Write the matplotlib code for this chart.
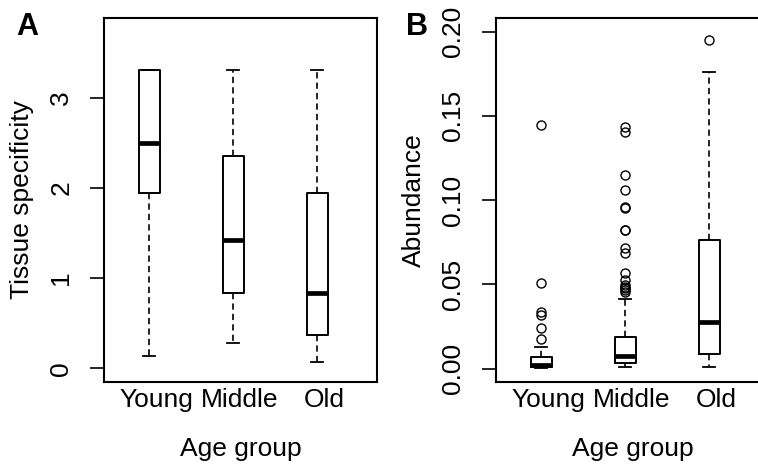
import matplotlib.pyplot as plt
from matplotlib.transforms import ScaledTranslation

plt.rcParams["font.family"] = ["Liberation Sans", "DejaVu Sans"]
plt.rcParams["lines.scale_dashes"] = False

groups = ["Young", "Middle", "Old"]

# panel A: tissue specificity (box stats)
ts_whislo = [0.14, 0.28, 0.07]
ts_q1 = [1.94, 0.83, 0.37]
ts_med = [2.50, 1.42, 0.83]
ts_q3 = [3.31, 2.35, 1.94]
ts_whishi = [3.31, 3.31, 3.31]
ts_fliers = [[], [], []]
ts_ticks = [0, 1, 2, 3]

# panel B: abundance
ab_whislo = [0.0002, 0.0008, 0.0010]
ab_q1 = [0.0008, 0.0030, 0.0089]
ab_med = [0.0022, 0.0073, 0.0277]
ab_q3 = [0.0068, 0.0188, 0.0762]
ab_whishi = [0.0128, 0.0413, 0.1760]
ab_fliers = [
    [0.0178, 0.0239, 0.0317, 0.0336, 0.0505, 0.1446],
    [0.0455, 0.0465, 0.0475, 0.0485, 0.0495, 0.0525, 0.0564, 0.0687,
     0.0713, 0.0820, 0.0824, 0.0955, 0.0958, 0.1060, 0.1149, 0.1406, 0.1436],
    [0.1950],
]
ab_ticks = [0.00, 0.05, 0.10, 0.15, 0.20]

FS = 19


def draw(ax, whislo, q1, med, q3, whishi, fliers, ticks, fmt, ylim, ylabel):
    stats = []
    for i, name in enumerate(groups):
        stats.append(dict(label=name, whislo=whislo[i], q1=q1[i], med=med[i],
                          q3=q3[i], whishi=whishi[i], fliers=fliers[i]))
    ax.bxp(stats, positions=[1, 2, 3], widths=0.25, capwidths=0.14,
           boxprops=dict(color="black", linewidth=1.4),
           medianprops=dict(color="black", linewidth=3.4, solid_capstyle="butt"),
           whiskerprops=dict(color="black", linewidth=1.2, linestyle=(0, (4.5, 3))),
           capprops=dict(color="black", linewidth=1.3),
           flierprops=dict(marker="o", markerfacecolor="none", markeredgecolor="black",
                           markersize=6.5, markeredgewidth=1.0))
    ax.set_xlim(0.464, 3.714)
    ax.set_ylim(*ylim)
    ax.set_xticks([1, 2, 3])
    ax.set_xticklabels(groups, fontsize=FS)
    ax.tick_params(axis="x", length=0, pad=4)
    shift = ScaledTranslation(0.07, 0, ax.figure.dpi_scale_trans)
    for lab in ax.get_xticklabels():
        lab.set_transform(lab.get_transform() + shift)
    ax.set_yticks(ticks)
    ax.set_yticklabels([fmt.format(t) for t in ticks], fontsize=FS,
                       rotation=90, va="center")
    ax.tick_params(axis="y", length=10, width=1.2, pad=12)
    for sp in ax.spines.values():
        sp.set_linewidth(1.5)
    ax.set_xlabel("Age group", fontsize=FS)
    ax.xaxis.set_label_coords(0.5, -0.15)
    ax.set_ylabel(ylabel, fontsize=FS)
    ax.yaxis.set_label_coords(-0.255, 0.5)


fig = plt.figure(figsize=(7.58, 4.67), dpi=100)
axA = fig.add_axes([0.1372, 0.182, 0.3602, 0.7794])
axB = fig.add_axes([0.6544, 0.182, 0.3602, 0.7794])

draw(axA, ts_whislo, ts_q1, ts_med, ts_q3, ts_whishi, ts_fliers, ts_ticks,
     "{:d}", (-0.152, 3.886), "Tissue specificity")
draw(axB, ab_whislo, ab_q1, ab_med, ab_q3, ab_whishi, ab_fliers, ab_ticks,
     "{:.2f}", (-0.008, 0.208), "Abundance")

fig.text(16 / 758, 1 - 35 / 467, "A", fontsize=22, fontweight="bold")
fig.text(406 / 758, 1 - 35 / 467, "B", fontsize=22, fontweight="bold")

fig.savefig("out.png", dpi=100)
